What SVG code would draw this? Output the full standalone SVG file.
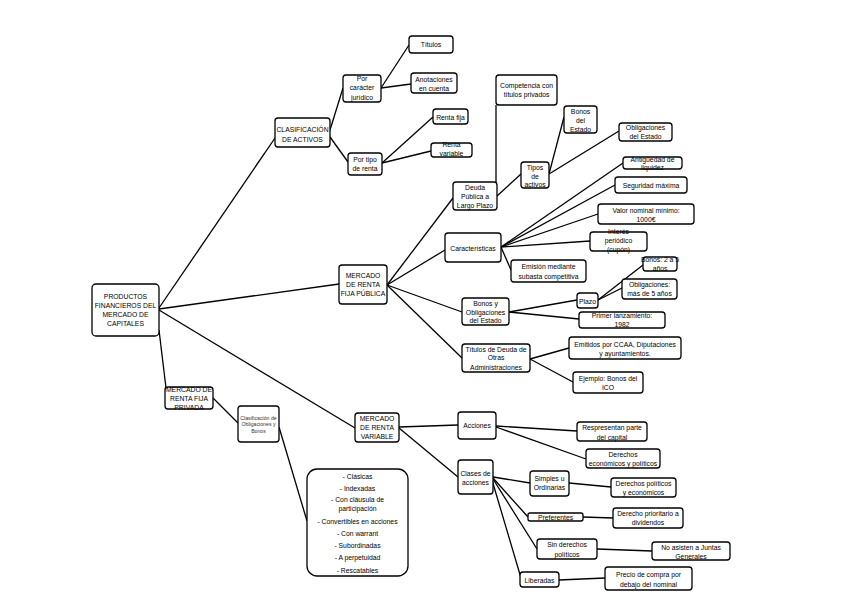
<svg xmlns="http://www.w3.org/2000/svg" width="848" height="599" viewBox="0 0 848 599">
<style>
rect{fill:#fff;stroke:#000;stroke-width:1.3}
text{font-family:"Liberation Sans",Arial,sans-serif;font-size:6.8px;fill:#000;text-anchor:middle}
.c line{stroke:#000;stroke-width:1.3}
.sm{font-size:5.2px;fill:#333}
</style>
<rect x="0" y="0" width="848" height="599" style="fill:#fff;stroke:none"/>
<g class="c" id="connectors">
<line x1="159" y1="308" x2="275" y2="138"/>
<line x1="159" y1="309" x2="339" y2="284"/>
<line x1="159" y1="310" x2="355" y2="428"/>
<line x1="159" y1="330" x2="166" y2="388"/>
<line x1="330" y1="130" x2="343" y2="88"/>
<line x1="330" y1="137" x2="348" y2="162"/>
<line x1="381" y1="88" x2="409" y2="45"/>
<line x1="381" y1="88" x2="411" y2="84"/>
<line x1="382" y1="163" x2="433" y2="117"/>
<line x1="382" y1="163" x2="431" y2="151"/>
<line x1="387" y1="285" x2="453" y2="198"/>
<line x1="387" y1="285" x2="445" y2="250"/>
<line x1="387" y1="285" x2="462" y2="312"/>
<line x1="387" y1="285" x2="462" y2="358"/>
<line x1="496" y1="183" x2="496" y2="105"/>
<line x1="497" y1="196" x2="521" y2="174"/>
<line x1="549" y1="174" x2="564" y2="117"/>
<line x1="549" y1="174" x2="619" y2="131"/>
<line x1="501" y1="247" x2="623" y2="163"/>
<line x1="501" y1="247" x2="615" y2="185"/>
<line x1="501" y1="247" x2="598" y2="214"/>
<line x1="501" y1="247" x2="590" y2="241"/>
<line x1="501" y1="247" x2="511" y2="270"/>
<line x1="509" y1="312" x2="577" y2="300"/>
<line x1="509" y1="312" x2="579" y2="319"/>
<line x1="598" y1="300" x2="643" y2="265"/>
<line x1="598" y1="300" x2="622" y2="288"/>
<line x1="530" y1="359" x2="569" y2="348"/>
<line x1="530" y1="359" x2="573" y2="382"/>
<line x1="213" y1="398" x2="238" y2="423"/>
<line x1="279" y1="427" x2="307" y2="521"/>
<line x1="399" y1="427" x2="458" y2="425"/>
<line x1="399" y1="428" x2="458" y2="477"/>
<line x1="496" y1="426" x2="577" y2="431"/>
<line x1="496" y1="427" x2="586" y2="459"/>
<line x1="493" y1="477" x2="530" y2="483"/>
<line x1="493" y1="478" x2="528" y2="517"/>
<line x1="493" y1="479" x2="537" y2="549"/>
<line x1="492" y1="480" x2="521" y2="578"/>
<line x1="569" y1="483" x2="611" y2="487"/>
<line x1="583" y1="517" x2="613" y2="518"/>
<line x1="597" y1="549" x2="652" y2="551"/>
<line x1="559" y1="580" x2="605" y2="578"/>
</g>
<g id="n-productos"><rect x="92" y="284" width="67" height="52" rx="4"/><text x="125.5" y="298.5">PRODUCTOS</text><text x="125.5" y="307.5">FINANCIEROS DEL</text><text x="125.5" y="316.5">MERCADO DE</text><text x="125.5" y="325.5">CAPITALES</text></g>
<g id="n-clasificacion"><rect x="275" y="118" width="55" height="29" rx="3"/><text x="302.5" y="131.5">CLASIFICACIÓN</text><text x="302.5" y="141.5">DE ACTIVOS</text></g>
<g id="n-caracter"><rect x="343" y="75" width="38" height="27" rx="3"/><text x="362" y="80.5">Por</text><text x="362" y="89.5">carácter</text><text x="362" y="99.5">jurídico</text></g>
<g id="n-titulos"><rect x="409" y="36" width="44" height="17" rx="3"/><text x="431" y="46.5">Títulos</text></g>
<g id="n-anotaciones"><rect x="411" y="73" width="46" height="20" rx="3"/><text x="434" y="81.5">Anotaciones</text><text x="434" y="90.5">en cuenta</text></g>
<g id="n-rentafija"><rect x="433" y="109" width="35" height="15" rx="3"/><text x="450.5" y="119.5">Renta fija</text></g>
<g id="n-rentavariable"><rect x="431" y="143" width="41" height="14" rx="3"/><text x="451.5" y="146.5">Renta</text><text x="451.5" y="155.5">variable</text></g>
<g id="n-portipo"><rect x="348" y="153" width="34" height="22" rx="3"/><text x="365" y="161.5">Por tipo</text><text x="365" y="170.5">de renta</text></g>
<g id="n-competencia"><rect x="496" y="75" width="61" height="30" rx="3"/><text x="526.5" y="87.5">Competencia con</text><text x="526.5" y="96.5">títulos privados</text></g>
<g id="n-deuda"><rect x="453" y="182" width="44" height="28" rx="3"/><text x="475" y="189.5">Deuda</text><text x="475" y="198.5">Pública a</text><text x="475" y="207.5">Largo Plazo</text></g>
<g id="n-tipos"><rect x="521" y="162" width="28" height="26" rx="3"/><text x="535" y="169.5">Tipos</text><text x="535" y="178.5">de</text><text x="535" y="186.5">activos</text></g>
<g id="n-bonosestado"><rect x="564" y="106" width="33" height="27" rx="3"/><text x="580.5" y="113.5">Bonos</text><text x="580.5" y="122.5">del</text><text x="580.5" y="131.5">Estado</text></g>
<g id="n-obligestado"><rect x="619" y="123" width="53" height="18" rx="3"/><text x="645.5" y="129.5">Obligaciones</text><text x="645.5" y="138.5">del Estado</text></g>
<g id="n-antiguedad"><rect x="623" y="157" width="59" height="12" rx="3"/><text x="652.5" y="161.5">Antigüedad de</text><text x="652.5" y="169.5">liquidez</text></g>
<g id="n-seguridad"><rect x="615" y="177" width="72" height="16" rx="3"/><text x="651" y="187.5">Seguridad máxima</text></g>
<g id="n-valor"><rect x="598" y="204" width="96" height="20" rx="3"/><text x="646" y="212.5">Valor nominal mínimo:</text><text x="646" y="221.5">1000€</text></g>
<g id="n-caracteristicas"><rect x="445" y="233" width="56" height="29" rx="3"/><text x="473" y="250.5">Características</text></g>
<g id="n-interes"><rect x="590" y="232" width="57" height="19" rx="3"/><text x="618.5" y="233.5">Interés</text><text x="618.5" y="242.5">periódico</text><text x="618.5" y="251.5">(cupón)</text></g>
<g id="n-emision"><rect x="511" y="260" width="75" height="22" rx="3"/><text x="548.5" y="268.5">Emisión mediante</text><text x="548.5" y="278.5">subasta competitiva</text></g>
<g id="n-fijapublica"><rect x="339" y="265" width="48" height="39" rx="3"/><text x="363" y="277.5">MERCADO</text><text x="363" y="286.5">DE RENTA</text><text x="363" y="295.5">FIJA PÚBLICA</text></g>
<g id="n-bonosoblig"><rect x="462" y="298" width="47" height="27" rx="3"/><text x="485.5" y="305.5">Bonos y</text><text x="485.5" y="314.5">Obligaciones</text><text x="485.5" y="322.5">del Estado</text></g>
<g id="n-plazo"><rect x="577" y="293" width="21" height="15" rx="3"/><text x="587.5" y="303.5">Plazo</text></g>
<g id="n-bonos25"><rect x="643" y="257" width="34" height="14" rx="3"/><text x="660" y="261.5">Bonos: 2 a 5</text><text x="660" y="270.5">años</text></g>
<g id="n-oblig5"><rect x="622" y="279" width="55" height="20" rx="3"/><text x="649.5" y="286.5">Obligaciones:</text><text x="649.5" y="295.5">más de 5 años</text></g>
<g id="n-primer"><rect x="579" y="312" width="86" height="16" rx="3"/><text x="622" y="317.5">Primer lanzamiento:</text><text x="622" y="326.5">1982</text></g>
<g id="n-otras"><rect x="462" y="344" width="68" height="28" rx="3"/><text x="496" y="351.5">Títulos de Deuda de</text><text x="496" y="359.5">Otras</text><text x="496" y="369.5">Administraciones</text></g>
<g id="n-emitidos"><rect x="569" y="337" width="112" height="22" rx="3"/><text x="625" y="346.5">Emitidos por CCAA, Diputaciones</text><text x="625" y="355.5">y ayuntamientos.</text></g>
<g id="n-ico"><rect x="573" y="372" width="70" height="21" rx="3"/><text x="608" y="380.5">Ejemplo: Bonos del</text><text x="608" y="389.5">ICO</text></g>
<g id="n-fijaprivada"><rect x="165" y="387" width="48" height="22" rx="3"/><text x="189" y="391.5">MERCADO DE</text><text x="189" y="400.5">RENTA FIJA</text><text x="189" y="409.5">PRIVADA</text></g>
<g id="n-clasifoblig"><rect x="238" y="406" width="41" height="36" rx="3"/><text class="sm" x="258.5" y="419.8">Clasificación de</text><text class="sm" x="258.5" y="426.3">Obligaciones y</text><text class="sm" x="258.5" y="432.8">Bonos</text></g>
<g id="n-variable"><rect x="355" y="413" width="44" height="29" rx="3"/><text x="377" y="420.5">MERCADO</text><text x="377" y="429.5">DE RENTA</text><text x="377" y="438.5">VARIABLE</text></g>
<g id="n-lista"><rect x="307" y="469" width="101" height="107" rx="10"/><text x="357.5" y="478.5">- Clásicas</text><text x="357.5" y="490.5">- Indexadas</text><text x="357.5" y="501.5">- Con cláusula de</text><text x="357.5" y="510.5">participación</text><text x="357.5" y="523.5">- Convertibles en acciones</text><text x="357.5" y="535.5">- Con warrant</text><text x="357.5" y="547.5">- Subordinadas</text><text x="357.5" y="559.5">- A perpetuidad</text><text x="357.5" y="572.5">- Rescatables</text></g>
<g id="n-acciones"><rect x="458" y="412" width="38" height="27" rx="3"/><text x="477" y="427.5">Acciones</text></g>
<g id="n-clases"><rect x="458" y="460" width="35" height="34" rx="3"/><text x="475.5" y="475.5">Clases de</text><text x="475.5" y="484.5">acciones</text></g>
<g id="n-respresentan"><rect x="577" y="422" width="70" height="19" rx="3"/><text x="612" y="429.5">Respresentan parte</text><text x="612" y="439.5">del capital</text></g>
<g id="n-dereco"><rect x="586" y="449" width="74" height="19" rx="3"/><text x="623" y="456.5">Derechos</text><text x="623" y="465.5">económicos y políticos</text></g>
<g id="n-simples"><rect x="530" y="471" width="39" height="25" rx="3"/><text x="549.5" y="480.5">Simples u</text><text x="549.5" y="489.5">Ordinarias</text></g>
<g id="n-derpol"><rect x="611" y="478" width="65" height="19" rx="3"/><text x="643.5" y="485.5">Derechos políticos</text><text x="643.5" y="494.5">y económicos</text></g>
<g id="n-preferentes"><rect x="528" y="513" width="55" height="8" rx="2"/><text x="555.5" y="519.5">Preferentes</text></g>
<g id="n-prioritario"><rect x="613" y="508" width="70" height="20" rx="3"/><text x="648" y="515.5">Derecho prioritario a</text><text x="648" y="524.5">dividendos</text></g>
<g id="n-sinderechos"><rect x="537" y="539" width="60" height="20" rx="3"/><text x="567" y="546.5">Sin derechos</text><text x="567" y="556.5">políticos</text></g>
<g id="n-juntas"><rect x="652" y="542" width="78" height="18" rx="3"/><text x="691" y="549.5">No asisten a Juntas</text><text x="691" y="558.5">Generales</text></g>
<g id="n-liberadas"><rect x="520" y="572" width="39" height="15" rx="3"/><text x="539.5" y="582.5">Liberadas</text></g>
<g id="n-precio"><rect x="605" y="567" width="87" height="23" rx="3"/><text x="648.5" y="576.5">Precio de compra por</text><text x="648.5" y="586.5">debajo del nominal</text></g>
</svg>
